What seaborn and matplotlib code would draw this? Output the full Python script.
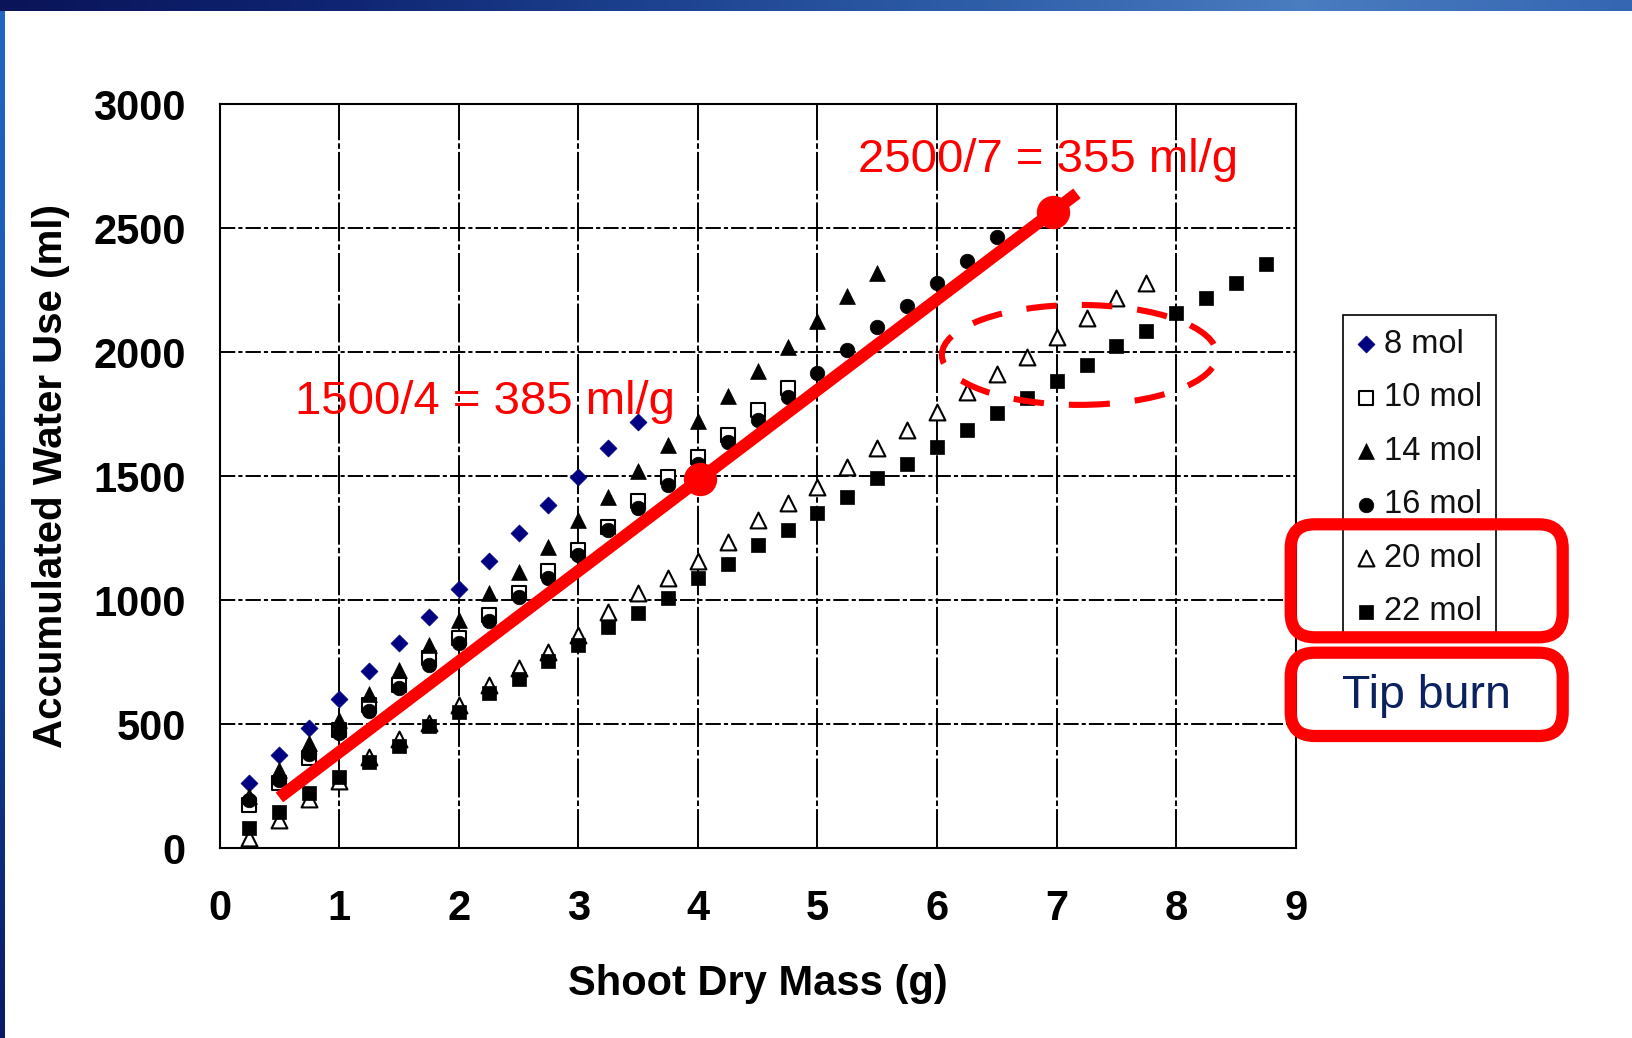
import numpy as np
import pandas as pd
import matplotlib
matplotlib.use("Agg")
import matplotlib.pyplot as plt
import seaborn as sns
from matplotlib.patches import Ellipse, FancyBboxPatch
from matplotlib.colors import LinearSegmentedColormap

# ---------------- data ----------------
mass = [0.25, 0.5, 0.75, 1.0, 1.25, 1.5, 1.75, 2.0, 2.25, 2.5, 2.75, 3.0,
        3.25, 3.5, 3.75, 4.0, 4.25, 4.5, 4.75, 5.0, 5.25, 5.5, 5.75, 6.0,
        6.25, 6.5, 6.75, 7.0, 7.25, 7.5, 7.75, 8.0, 8.25, 8.5, 8.75]

wu_8 = [262, 376, 486, 600, 716, 826, 931, 1045, 1158, 1273, 1384, 1498, 1615, 1720]
wu_10 = [175, 265, 365, 477, 577, 658, 766, 846, 940, 1028, 1119, 1202, 1296,
         1400, 1498, 1578, 1666, 1767, 1854]
wu_14 = [212, 315, 423, 517, 624, 718, 819, 920, 1028, 1115, 1216, 1323, 1418,
         1520, 1625, 1722, 1823, 1923, 2020, 2127, 2228, 2318]
wu_16 = [194, 275, 382, 463, 552, 645, 738, 826, 916, 1012, 1088, 1182, 1283,
         1370, 1465, 1550, 1639, 1726, 1821, 1917, 2008, 2103, 2188, 2277, 2368, 2463]
wu_20 = [40, 115, 200, 270, 369, 440, 504, 577, 660, 726, 792, 860, 953, 1030,
         1088, 1158, 1236, 1323, 1391, 1458, 1538, 1612, 1686, 1758, 1838, 1913,
         1982, 2060, 2136, 2217, 2277]
wu_22 = [80, 145, 222, 289, 349, 412, 492, 550, 627, 681, 757, 819, 894, 948,
         1011, 1090, 1148, 1223, 1283, 1350, 1417, 1491, 1548, 1618, 1686, 1755,
         1816, 1885, 1948, 2026, 2087, 2157, 2217, 2280, 2355]

labels = ["8 mol", "10 mol", "14 mol", "16 mol", "20 mol", "22 mol"]
values = [wu_8, wu_10, wu_14, wu_16, wu_20, wu_22]

x_ticks = [0, 1, 2, 3, 4, 5, 6, 7, 8, 9]
y_ticks = [0, 500, 1000, 1500, 2000, 2500, 3000]

# annotation line (hand drawn slope line) and its two points
line_x = [0.50, 7.17]
line_y = [205, 2640]
dot_x = [4.02, 6.97]
dot_y = [1490, 2567]
ellipse_center = (7.19, 1989)
ellipse_size = (2.30, 403)

# ---------------- style ----------------
sns.set_style("white")
plt.rcParams["font.family"] = ["Liberation Sans", "DejaVu Sans"]
plt.rcParams["lines.scale_dashes"] = False

W, H = 1632, 1038
fig = plt.figure(figsize=(W / 100, H / 100), dpi=100)
fig.patch.set_facecolor("white")

ax_l, ax_r, ax_t, ax_b = 219.6, 1295.8, 104.1, 848.3
ax = fig.add_axes([ax_l / W, 1 - ax_b / H, (ax_r - ax_l) / W, (ax_b - ax_t) / H])

styles = {
    "8 mol": dict(marker="D", s=75, color="#000080", edgecolor="#000080", linewidth=0.5),
    "10 mol": dict(marker="s", s=92, color="white", edgecolor="black", linewidth=1.5),
    "14 mol": dict(marker="^", s=130, color="black", edgecolor="black", linewidth=0.5),
    "16 mol": dict(marker="o", s=110, color="black", edgecolor="black", linewidth=0.5),
    "20 mol": dict(marker="^", s=130, color="white", edgecolor="black", linewidth=1.5),
    "22 mol": dict(marker="s", s=100, color="black", edgecolor="black", linewidth=0.5),
}

for lab, vals in zip(labels, values):
    df = pd.DataFrame({"mass": mass[:len(vals)], "water": vals})
    sns.scatterplot(data=df, x="mass", y="water", ax=ax, legend=False,
                    zorder=3, clip_on=False, **styles[lab])

handles = list(ax.collections[:6])
for h, lab in zip(handles, labels):
    h.set_label(lab)

ax.set_xlim(0, 9)
ax.set_ylim(0, 3000)
ax.set_xticks(x_ticks)
ax.set_yticks(y_ticks)
ax.set_xticklabels([str(t) for t in x_ticks])
ax.set_yticklabels([str(t) for t in y_ticks])

ax.tick_params(axis="both", direction="out", length=9.5, width=1.5, color="black",
               labelsize=30, labelcolor="black")
ax.tick_params(axis="x", pad=20)
ax.tick_params(axis="y", pad=15)
for t in ax.get_xticklabels() + ax.get_yticklabels():
    t.set_fontweight("bold")

for sp in ax.spines.values():
    sp.set_visible(True)
    sp.set_color("black")
    sp.set_linewidth(1.5)

ax.set_axisbelow(True)
ax.xaxis.grid(True, color="black", linewidth=1.4, linestyle=(0, (28, 2.2, 4, 2.2)))
ax.yaxis.grid(True, color="black", linewidth=1.4, linestyle=(0, (11, 2.2, 3, 2.2)))

ax.set_xlabel("Shoot Dry Mass (g)", fontsize=30, fontweight="bold", color="black")
ax.set_ylabel("Accumulated Water Use (ml)", fontsize=29, fontweight="bold", color="black")
ax.xaxis.set_label_coords(0.5, -0.156)
ax.yaxis.set_label_coords(-0.139, 0.5)

# red slope line, points and texts
ax.plot(line_x, line_y, color="#ff0000", linewidth=8.8, solid_capstyle="butt",
        zorder=6, clip_on=False)
ax.plot(dot_x, dot_y, "o", color="#ff0000", markersize=23, zorder=7, clip_on=False)
ax.text(6.93, 2727, "2500/7 = 355 ml/g", color="#ff0000", fontsize=34,
        ha="center", va="baseline", zorder=8)
ax.text(2.22, 1751, "1500/4 = 385 ml/g", color="#ff0000", fontsize=34,
        ha="center", va="baseline", zorder=8)

ell = Ellipse(ellipse_center, ellipse_size[0], ellipse_size[1], fill=False,
              edgecolor="#ff0000", linewidth=4.4, linestyle=(0, (22, 18)), zorder=6)
ax.add_patch(ell)

# legend
leg = ax.legend(handles, labels, loc="upper left",
                bbox_to_anchor=(1343.3 / W, 1 - 315 / H), bbox_transform=fig.transFigure,
                borderaxespad=0, frameon=True, fancybox=False, shadow=False,
                fontsize=23.5, scatterpoints=1, markerscale=1.0,
                borderpad=0.42, labelspacing=0.69, handlelength=0.56,
                handletextpad=0.28)
leg.get_frame().set_edgecolor("black")
leg.get_frame().set_linewidth(1.2)
leg.get_frame().set_alpha(1)
for t in leg.get_texts():
    t.set_color("#111111")

# red rounded boxes
box_kw = dict(boxstyle="round,pad=0,rounding_size=0.24", fill=False,
              edgecolor="#ff0000", linewidth=8.8, transform=fig.dpi_scale_trans,
              zorder=20, clip_on=False)
fig.patches.append(FancyBboxPatch((12.907, (H - 637.3) / 100), 2.72, 1.13, **box_kw))
fig.patches.append(FancyBboxPatch((12.907, (H - 736.0) / 100), 2.72, 0.833, **box_kw))
fig.text(1426.7 / W, 1 - 708.3 / H, "Tip burn", color="#0b2160", fontsize=33.5,
         ha="center", va="baseline", zorder=21)

# blue slide frame (top and left edges)
top_cmap = LinearSegmentedColormap.from_list(
    "topband", ["#0a1458", "#0f2472", "#1d428f", "#2f5ea8", "#4a7cc0", "#3566b2"])
axt = fig.add_axes([0, 1 - 11 / H, 1, 11 / H])
axt.imshow(np.linspace(0, 1, 400)[None, :], aspect="auto", cmap=top_cmap,
           extent=[0, 1, 0, 1])
axt.set_axis_off()
left_cmap = LinearSegmentedColormap.from_list(
    "leftband", ["#0a1a66", "#123a90", "#1c58b8", "#2166c4"])
axl = fig.add_axes([0, 0, 5 / W, 1 - 11 / H])
axl.imshow(np.linspace(1, 0, 400)[:, None], aspect="auto", cmap=left_cmap,
           extent=[0, 1, 0, 1])
axl.set_axis_off()

fig.savefig("out.png", dpi=100, facecolor="white")
